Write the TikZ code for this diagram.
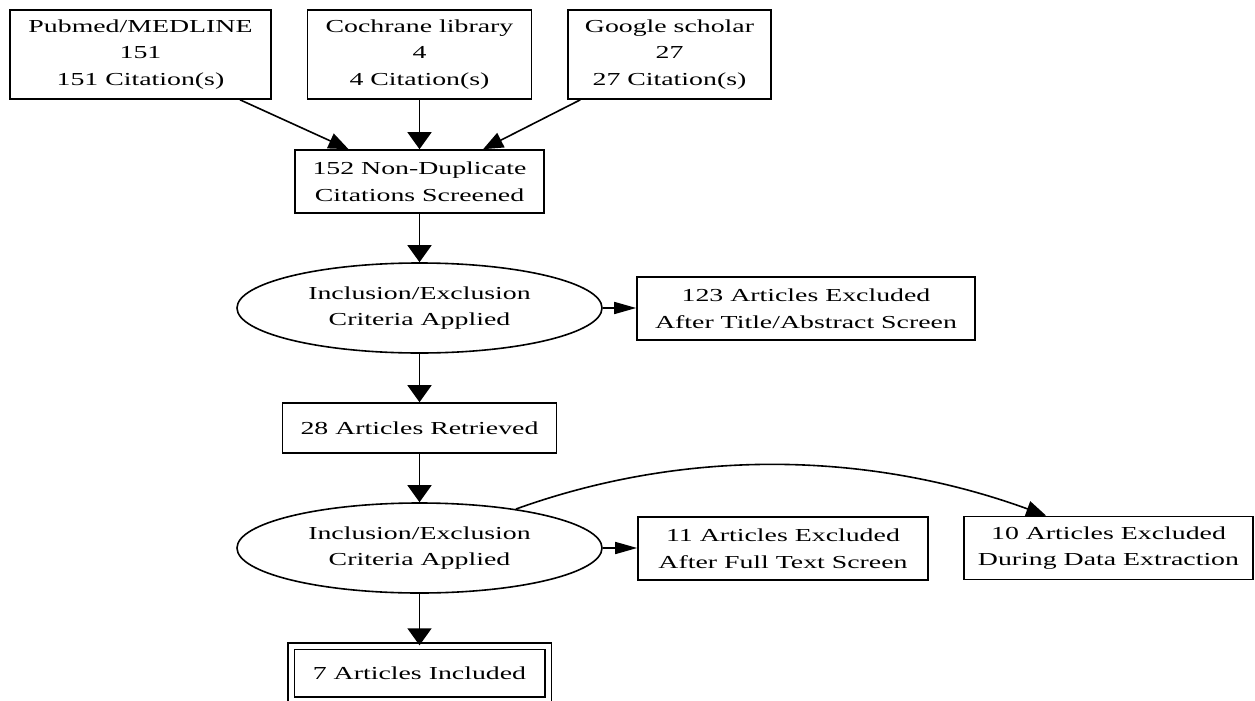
\documentclass[tikz,border=0pt]{standalone}
\usepackage{fontspec}
\setmainfont{Liberation Serif}[FakeStretch=1.52]
\usetikzlibrary{arrows.meta,shapes.geometric,calc}
\begin{document}
\begin{tikzpicture}[x=1pt,y=-1pt,
  every node/.style={font=\fontsize{18.3}{26.7}\selectfont, align=center, inner sep=0pt, line width=1.6pt},
  box/.style 2 args={draw, rectangle, minimum width=#1, minimum height=#2},
  oval/.style={draw, ellipse, minimum width=365, minimum height=90},
  finalbox/.style={draw, rectangle, double, double distance=5pt, line width=1.4pt, minimum width=257, minimum height=54},
  varr/.style={line width=1.6pt, -{Triangle[length=17pt,width=24pt]}},
  harr/.style={line width=1.6pt, -{Triangle[length=22pt,width=12pt]}},
  darr/.style={line width=1.6pt, -{Triangle[length=20pt,width=16pt]}}]
\clip (0,0) rectangle (1255,701);
\useasboundingbox (0,0) rectangle (1255,701);
\node[box={261}{89}] (pub) at (140.5,54.5) {Pubmed/MEDLINE\\151\\151 Citation(s)};
\node[box={224}{89}] (coch) at (419.5,54.5) {Cochrane library\\4\\4 Citation(s)};
\node[box={203}{89}] (goog) at (669.5,54.5) {Google scholar\\27\\27 Citation(s)};
\node[box={249}{63}] (scr) at (419.5,181.5) {152 Non-Duplicate\\Citations Screened};
\node[oval] (e1) at (419.5,308) {Inclusion/Exclusion\\Criteria Applied};
\node[box={338}{63}] (x123) at (806,308.5) {123 Articles Excluded\\After Title/Abstract Screen};
\node[box={274}{50}] (r28) at (419.5,428) {28 Articles Retrieved};
\node[oval] (e2) at (419.5,548) {Inclusion/Exclusion\\Criteria Applied};
\node[box={290}{63}] (x11) at (783,548.5) {11 Articles Excluded\\After Full Text Screen};
\node[box={289}{63}] (x10) at (1108.5,548) {10 Articles Excluded\\During Data Extraction};
\node[finalbox] (inc) at (419.5,673) {7 Articles Included};
\coordinate (x10in) at ($(x10.north west)+(83,0)$);
\draw[darr] (pub) -- (scr);
\draw[varr] (coch) -- (scr);
\draw[darr] (goog) -- (scr);
\draw[varr] (scr) -- (e1);
\draw[harr] (e1.east) -- (e1.east -| x123.west);
\draw[varr] (e1) -- (r28);
\draw[varr] (r28) -- (e2);
\draw[harr] (e2.east) -- (e2.east -| x11.west);
\draw[darr] (e2.22) .. controls (691,446) and (874,453) .. (x10in);
\draw[varr] (e2) -- (inc);
\end{tikzpicture}
\end{document}
